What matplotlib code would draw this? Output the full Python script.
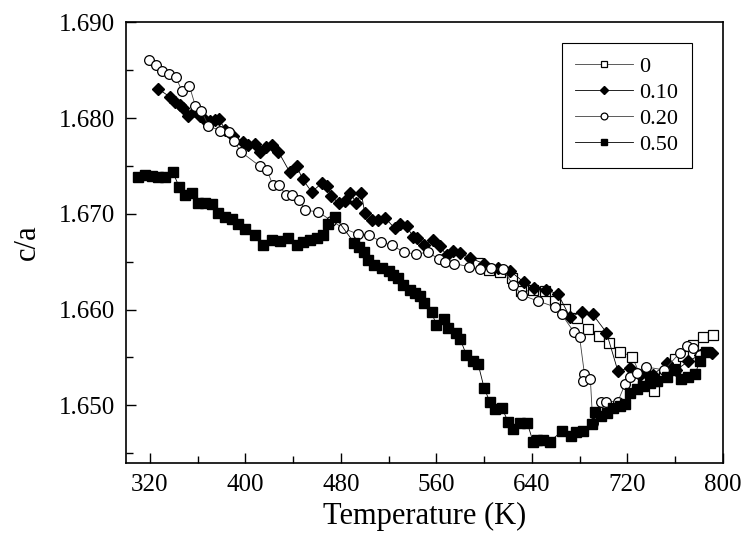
import matplotlib.pyplot as plt
from matplotlib.ticker import MultipleLocator, FormatStrFormatter

plt.rcParams['font.family'] = ['Liberation Serif', 'DejaVu Serif']

# x = 0 (open squares)
T_0 = [595, 604, 613, 623, 631, 641, 651, 659, 668, 678, 687, 696, 705, 714,
       724, 733, 742, 751, 760, 767, 775, 783, 792]
ca_0 = [1.6649, 1.6641, 1.6639, 1.6633, 1.6619, 1.6620, 1.6619, 1.6609, 1.6601,
        1.6591, 1.6580, 1.6572, 1.6565, 1.6556, 1.6551, 1.6525, 1.6515, 1.6531,
        1.6548, 1.6552, 1.6563, 1.6571, 1.6573]

# x = 0.10 (filled diamonds)
T_10 = [326.5, 337, 341, 345, 348, 352, 358, 362, 366, 370, 374.5, 378, 383, 390,
        398, 402, 408, 412, 417, 422, 427.6, 437, 443, 448, 455.5, 464, 468, 472,
        478, 483, 488, 493, 497, 500, 506, 511, 517, 525, 529.5, 535, 540.6, 543.5,
        550, 557, 563, 568.6, 574, 580, 588, 600, 612, 622, 633, 642, 652, 662, 672,
        682, 691, 702.5, 712, 722, 730.5, 736, 741.6, 753, 761, 771, 781, 790.5]
ca_10 = [1.6831, 1.6822, 1.6817, 1.6814, 1.6811, 1.6802, 1.6807, 1.6802, 1.6798,
         1.6797, 1.6798, 1.6799, 1.6788, 1.6781, 1.6775, 1.6772, 1.6773, 1.6765,
         1.6770, 1.6772, 1.6765, 1.6744, 1.6750, 1.6736, 1.6723, 1.6732, 1.6729,
         1.6719, 1.6711, 1.6713, 1.6722, 1.6711, 1.6722, 1.6701, 1.6694, 1.6694,
         1.6696, 1.6685, 1.6689, 1.6687, 1.6676, 1.6675, 1.6668, 1.6673, 1.6666,
         1.6657, 1.6661, 1.6659, 1.6654, 1.6648, 1.6643, 1.6640, 1.6629, 1.6623,
         1.6621, 1.6616, 1.6592, 1.6598, 1.6595, 1.6576, 1.6536, 1.6539, 1.6532,
         1.6534, 1.6532, 1.6544, 1.6537, 1.6546, 1.6553, 1.6555]

# x = 0.20 (open circles)
T_20 = [319.5, 325, 330, 336, 341.6, 347, 353, 358, 363, 369, 379, 386, 390.5, 396,
        412, 418, 423, 428, 434, 439, 445, 450, 461, 472, 482, 494, 503.5, 513.6,
        523, 533, 543, 552.6, 562, 567, 575, 587, 596.5, 606, 616, 624, 632, 645,
        659, 665, 675, 680, 684, 683, 689, 691, 698, 702.5, 712, 718, 722, 728, 736,
        751, 764, 770, 775, 781]
ca_20 = [1.6861, 1.6856, 1.6849, 1.6846, 1.6843, 1.6828, 1.6834, 1.6813, 1.6808,
         1.6792, 1.6787, 1.6786, 1.6776, 1.6765, 1.6750, 1.6746, 1.6730, 1.6730,
         1.6720, 1.6720, 1.6715, 1.6704, 1.6702, 1.6693, 1.6685, 1.6679, 1.6678,
         1.6671, 1.6667, 1.6660, 1.6658, 1.6660, 1.6653, 1.6650, 1.6648, 1.6645,
         1.6642, 1.6643, 1.6642, 1.6626, 1.6615, 1.6609, 1.6603, 1.6595, 1.6577,
         1.6571, 1.6533, 1.6525, 1.6527, 1.6482, 1.6504, 1.6504, 1.6504, 1.6522,
         1.6530, 1.6534, 1.6540, 1.6537, 1.6555, 1.6562, 1.6560, 1.6553]

# x = 0.50 (filled squares)
T_50 = [310, 316, 321.5, 327, 333, 339, 344.6, 349, 355, 360.6, 366, 372, 377, 383,
        388.5, 394, 400, 408, 415, 422, 429, 436, 443, 448.5, 454, 460, 465, 469.5,
        475, 491, 495, 499, 503, 508, 514, 520, 524, 528, 532, 538, 542, 546, 550,
        556, 560, 566, 570, 576, 580, 585, 591, 595, 600, 605, 609, 615, 620, 624,
        630, 636, 641, 644, 649.5, 655, 665, 673, 677, 683, 690, 693, 698, 703, 708,
        714, 718, 722, 728, 733, 739, 744.5, 753, 760, 765, 771, 776.5, 781, 786]
ca_50 = [1.6739, 1.6741, 1.6740, 1.6739, 1.6739, 1.6744, 1.6728, 1.6720, 1.6722,
         1.6711, 1.6711, 1.6710, 1.6701, 1.6697, 1.6695, 1.6689, 1.6684, 1.6678,
         1.6668, 1.6673, 1.6672, 1.6675, 1.6667, 1.6671, 1.6673, 1.6675, 1.6678,
         1.6689, 1.6697, 1.6670, 1.6665, 1.6660, 1.6652, 1.6647, 1.6643, 1.6640,
         1.6636, 1.6633, 1.6626, 1.6621, 1.6617, 1.6614, 1.6607, 1.6597, 1.6584,
         1.6590, 1.6581, 1.6576, 1.6569, 1.6553, 1.6546, 1.6543, 1.6518, 1.6503,
         1.6496, 1.6497, 1.6483, 1.6475, 1.6482, 1.6482, 1.6462, 1.6464, 1.6464,
         1.6462, 1.6473, 1.6468, 1.6472, 1.6473, 1.6480, 1.6493, 1.6489, 1.6492,
         1.6497, 1.6499, 1.6501, 1.6513, 1.6517, 1.6520, 1.6523, 1.6525, 1.6530,
         1.6537, 1.6527, 1.6530, 1.6533, 1.6546, 1.6556]

fig = plt.figure(figsize=(7.46, 5.35), dpi=100)
ax = fig.add_axes([0.169, 0.135, 0.800, 0.823])

ax.plot(T_0, ca_0, color='0.25', lw=0.6, marker='s', ms=6.5, mfc='white',
        mec='black', mew=0.9, label='0')
ax.plot(T_10, ca_10, color='black', lw=0.6, marker='D', ms=6.5, mfc='black',
        mec='black', label='0.10')
ax.plot(T_20, ca_20, color='0.25', lw=0.6, marker='o', ms=7, mfc='white',
        mec='black', mew=0.9, label='0.20')
ax.plot(T_50, ca_50, color='black', lw=0.6, marker='s', ms=6.5, mfc='black',
        mec='black', label='0.50')

ax.set_xlim(300, 800)
ax.set_ylim(1.644, 1.690)
ax.xaxis.set_major_locator(MultipleLocator(80))
ax.xaxis.set_minor_locator(MultipleLocator(40))
ax.yaxis.set_major_locator(MultipleLocator(0.010))
ax.yaxis.set_minor_locator(MultipleLocator(0.005))
ax.yaxis.set_major_formatter(FormatStrFormatter('%.3f'))
ax.tick_params(which='both', direction='in', labelsize=18, pad=8)
ax.tick_params(which='major', length=7, width=1)
ax.tick_params(which='minor', length=5, width=1)
for s in ax.spines.values():
    s.set_linewidth(1.2)

ax.set_xlabel('Temperature (K)', fontsize=22, labelpad=4)
ax.set_ylabel('c/a', fontsize=22, labelpad=12)

leg = ax.legend(loc='upper right', bbox_to_anchor=(0.948, 0.954), fontsize=16,
                fancybox=False, edgecolor='black', framealpha=1, markerscale=0.7,
                handlelength=2.6, handletextpad=0.3, labelspacing=0.25,
                borderpad=0.6, borderaxespad=0)
leg.get_frame().set_linewidth(0.8)

fig.savefig('out.png', dpi=100)
